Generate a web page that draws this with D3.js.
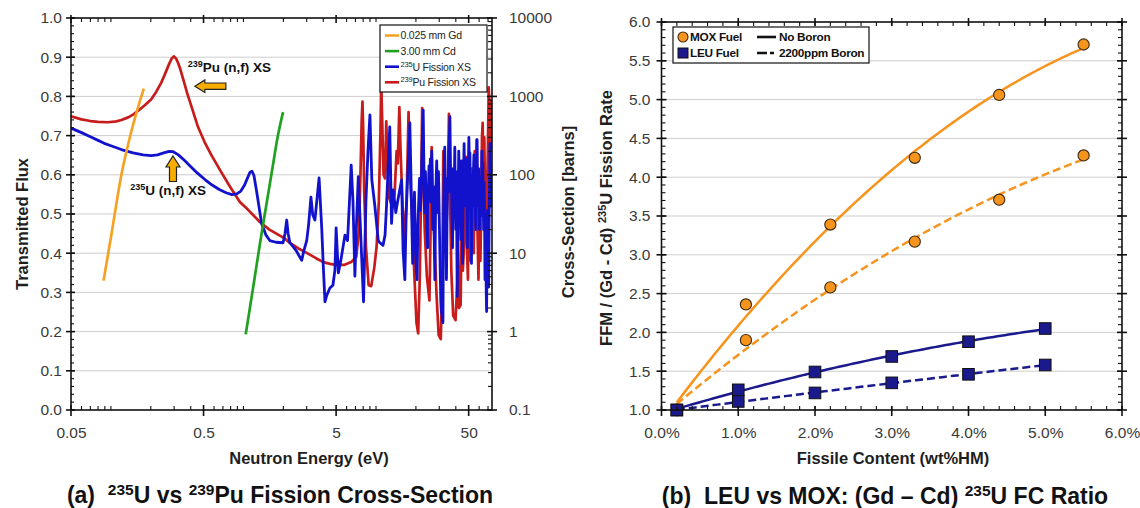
<!DOCTYPE html>
<html>
<head>
<meta charset="utf-8">
<script src="https://cdn.jsdelivr.net/npm/d3@7"></script>
<style>
  html, body { margin: 0; padding: 0; background: #fff; }
  svg { display: block; font-family: "Liberation Sans", Arial, Helvetica, sans-serif; }
</style>
</head>
<body>
<svg id="fig" width="1140" height="508"></svg>
<script>
// ---------------- Panel (a): filter transmission and fission cross-sections ----------------
const gdEnergy = [0.088, 0.1, 0.12, 0.145, 0.177];
const gdFlux   = [0.33, 0.44, 0.60, 0.72, 0.82];

const cdEnergy = [1.04, 1.18, 1.34, 1.5, 1.66, 1.82, 1.99];
const cdFlux   = [0.193, 0.31, 0.43, 0.53, 0.62, 0.70, 0.76];

const u235Energy = [0.05,0.06,0.07,0.08,0.089,0.1,0.12,0.147,0.175,0.201,0.225,0.25,0.275,0.295,0.321,0.36,0.399,0.45,0.512,0.58,0.657,0.74,0.818,0.89,0.956,1.02,1.07,1.12,1.16,1.2,1.26,1.37,1.48,1.58,1.76,1.99,2.06,2.12,2.17,2.24,2.49,2.75,2.86,3.0,3.1,3.23,3.33,3.46,3.72,3.9,4.0,4.12,4.25,4.49,4.73,4.9,5.0,5.2,5.43,5.83,6.1,6.5,6.7,6.93,7.1,7.35,7.7,8.05,8.4,8.7,9.0,9.3,9.8,10.4,10.7,11.3,11.7,12.0,12.7,13.1,13.5,14.1,14.6,15.6,16.0,16.5,16.9,
  18.0,18.3,18.6,18.9,19.2,19.5,19.8,20.1,20.4,20.7,21.0,21.3,21.6,21.9,22.2,22.5,22.7,22.9,23.1,23.3,23.6,23.9,24.2,24.5,24.8,25.1,25.4,25.7,26.0,26.3,26.6,26.9,27.2,27.5,27.8,28.1,28.4,28.7,29.0,29.3,29.6,29.9,30.2,30.5,30.8,31.1,31.5,32.0,32.3,32.6,33.0,33.3,33.6,34.0,34.3,34.6,35.0,35.3,35.7,36.1,36.4,36.7,37.0,37.4,37.8,38.1,38.5,38.9,39.3,39.6,40.0,40.3,40.6,41.0,41.4,41.7,42.1,42.5,42.9,43.3,43.7,44.1,44.5,45.0,45.4,45.8,46.2,46.6,47.0,47.4,47.8,48.2,48.6,49.0,49.4,49.8,50.2,50.7,51.1,51.5,52.0,52.5,53.0,53.4,53.8,54.3,54.8,55.2,55.7,56.2,56.6,57.1,57.5,57.9,58.4,58.9,59.4,59.9,60.4,60.9,61.4,61.9,62.4,62.9,63.4,63.9,64.4,64.9,65.4,65.9,66.4,66.9,67.4,67.9,68.3,68.8,69.3,69.8,70.3,70.8,71.4,71.9,72.4,72.9,73.4,73.9,74.4,75.0];
const u235XS = [394,345,305,275,252,235,210,190,180,176,180,190,199,197,181,152,128,105,87,74,65,59,56,57,62,74,90,108,111,98,60,24,17,14.5,13.8,13.6,18,26.5,18,13.6,10.9,8.1,10.9,14.5,23,52,31,26.5,91,20,7.0,2.4,2.9,3.6,3.9,6.1,21,5.6,8.1,17,14.5,133,47,5.1,20,95,14.5,2.4,47,205,580,86,40,14.5,13.6,12.6,17,40,408,24,64,33,47,86,10.9,4.6,33,
  458,120,30,7.4,25,60,18,6,4.6,22,45,90,35,60,180,420,670,200,60,33,110,45,20,11.7,50,130,70,160,45,200,60,20,70,14,4.6,30,80,150,60,33,110,40,15,6,2.5,1.8,1.6,1.3,30,90,225,70,25,4.6,20,90,60,160,300,550,180,60,120,30,11.7,50,120,70,225,60,20,110,25,2.8,20,60,200,80,120,30,15,150,50,7.4,40,110,250,90,140,40,90,160,30,11.7,70,150,300,120,190,60,25,7.4,60,100,40,110,180,70,86,30,20,150,90,280,60,40,120,45,20,70,90,30,60,200,90,140,40,20,80,30,4.6,25,8,3,1.8,15,35,8,5,3.7,30,80,250,120,108,40,70,86];

const pu239Energy = [0.05,0.06,0.07,0.08,0.095,0.11,0.12,0.135,0.147,0.165,0.18,0.201,0.22,0.24,0.258,0.275,0.288,0.298,0.31,0.322,0.332,0.355,0.376,0.41,0.452,0.51,0.58,0.68,0.79,0.94,1.08,1.33,1.57,2.03,2.24,2.6,3.0,3.5,4.0,4.5,5.0,5.8,6.5,7.1,7.45,7.65,7.8,7.9,8.0,8.15,8.4,8.8,9.2,9.7,10.1,10.5,10.8,10.95,11.1,11.4,11.7,11.95,12.2,12.6,13.2,13.8,14.3,14.6,15.0,15.3,15.8,16.4,17.0,17.6,18.1,18.7,19.4,20.2,20.8,21.4,21.9,22.3,22.7,23.3,24.2,25.3,25.9,26.3,26.8,27.6,28.6,29.7,30.8,31.6,32.2,32.8,33.8,34.9,35.5,36.1,37.0,38.2,39.8,41.0,41.5,42.2,43.5,44.4,45.2,46.4,47.6,48.5,49.4,50.1,50.9,51.8,52.6,53.5,54.6,55.6,56.4,57.4,58.3,59.3,60.3,61.3,62.2,63.0,63.8,64.6,65.6,66.6,67.8,69.0,70.0,70.8,71.7,72.8,73.8,75.0];
const pu239XS = [556,510,485,472,468,480,500,540,585,680,770,912,1150,1500,1995,2600,3050,3240,3050,2650,2290,1550,1100,700,417,260,172,108,71,45,36,25,20,15.6,13.5,11.5,10.1,8.7,7.7,7.3,7.1,7.1,7.7,9.0,20,120,500,860,400,60,12,3.9,3.8,6.5,12,45,350,1500,600,100,90,480,160,50,40,55,200,140,730,220,47,14,45,630,90,30,6,1.3,0.95,5,70,710,130,20,5,2.5,30,225,45,15,3,0.9,0.8,4,200,25,15,90,600,70,6,1.6,1.4,4,25,2,2.2,35,6,15,170,12,4.6,130,15,8,120,20,10,200,30,280,20,4.6,40,8,40,300,460,60,300,50,8,60,300,1300,900,200,600,900];

const energyTicks = [0.05, 0.5, 5, 50];
const fluxTicks = [0, 0.1, 0.2, 0.3, 0.4, 0.5, 0.6, 0.7, 0.8, 0.9, 1.0];
const xsTicks = [0.1, 1, 10, 100, 1000, 10000];

// ---------------- Panel (b): fission-rate ratio vs fissile content ----------------
const moxContent = [0.2, 1.1, 2.2, 3.3, 4.4, 5.5];
const moxNoBoron = [1.00, 2.36, 3.39, 4.25, 5.06, 5.71];
const moxBoron   = [1.00, 1.90, 2.58, 3.17, 3.71, 4.28];
const leuContent = [0.2, 1.0, 2.0, 3.0, 4.0, 5.0];
const leuNoBoron = [1.00, 1.26, 1.49, 1.69, 1.88, 2.05];
const leuBoron   = [1.00, 1.11, 1.22, 1.35, 1.46, 1.58];

const contentTicks = [0, 1, 2, 3, 4, 5, 6];
const ratioTicks = [1.0, 1.5, 2.0, 2.5, 3.0, 3.5, 4.0, 4.5, 5.0, 5.5, 6.0];

// ---------------- colours and type sizes ----------------
const C = {
  gd: "#F5A224", cd: "#22A022", u: "#1212CC", pu: "#C81C1C",
  mox: "#F7941E", leu: "#1A1A8C", arrow: "#F7AE00",
  grid: "#CDCDCD", axis: "#111", tick: "#3a3a3a", title: "#1e1e1e"
};
const TICK_FS = 15.5, TITLE_FS = 16.5, CAPTION_FS = 23;

const svg = d3.select("#fig");

// text with superscript pieces: parts = [[string, isSup], ...]
function rich(textSel, parts, supSize) {
  parts.forEach(([s, sup]) => {
    const t = textSel.append("tspan").text(s);
    if (sup) t.attr("font-size", supSize).attr("baseline-shift", "super");
  });
  return textSel;
}

// tick marks drawn along a frame edge
function tickMarks(g, scale, vals, side, at, inner, outer, w) {
  const grp = g.append("g").attr("stroke", C.axis).attr("stroke-width", w || 1.1);
  grp.selectAll("line").data(vals).join("line")
    .attr("x1", d => side === "left" ? at - outer : side === "right" ? at - inner : scale(d))
    .attr("x2", d => side === "left" ? at + inner : side === "right" ? at + outer : scale(d))
    .attr("y1", d => side === "bottom" ? at - inner : side === "top" ? at - outer : scale(d))
    .attr("y2", d => side === "bottom" ? at + outer : side === "top" ? at + inner : scale(d));
}

// tick labels through d3 axes (tick lines themselves drawn separately)
function labels(g, axis, tx, ty, size) {
  const a = g.append("g").attr("transform", `translate(${tx},${ty})`).call(axis);
  a.select(".domain").remove();
  a.selectAll(".tick line").remove();
  a.selectAll("text").attr("font-size", size).attr("fill", C.tick)
    .attr("font-family", '"Liberation Sans", Arial, sans-serif');
  return a;
}

// ======================= Panel (a) =======================
const A = { left: 71, right: 492, top: 18, bottom: 410 };
const xA = d3.scaleLog().domain([0.05, 75]).range([A.left, A.right]);
const yA = d3.scaleLinear().domain([0, 1]).range([A.bottom, A.top]);
const yA2 = d3.scaleLog().domain([0.1, 10000]).range([A.bottom, A.top]);

const gA = svg.append("g");
gA.append("defs").append("clipPath").attr("id", "clipA")
  .append("rect").attr("x", A.left).attr("y", A.top)
  .attr("width", A.right - A.left).attr("height", A.bottom - A.top);

gA.append("g").selectAll("line").data(fluxTicks.filter(v => v > 0 && v < 1)).join("line")
  .attr("x1", A.left).attr("x2", A.right)
  .attr("y1", d => yA(d)).attr("y2", d => yA(d))
  .attr("stroke", C.grid).attr("stroke-width", 1);

const plotA = gA.append("g").attr("clip-path", "url(#clipA)");
const xsLine = d3.line().x(d => xA(d[0])).y(d => yA2(d[1])).curve(d3.curveLinear);
const fluxLine = d3.line().x(d => xA(d[0])).y(d => yA(d[1])).curve(d3.curveMonotoneX);

plotA.append("path").datum(d3.zip(pu239Energy, pu239XS))
  .attr("d", xsLine).attr("fill", "none").attr("stroke", C.pu)
  .attr("stroke-width", 2.7).attr("stroke-linejoin", "round");
plotA.append("path").datum(d3.zip(u235Energy, u235XS))
  .attr("d", xsLine).attr("fill", "none").attr("stroke", C.u)
  .attr("stroke-width", 2.8).attr("stroke-linejoin", "round");
plotA.append("path").datum(d3.zip(gdEnergy, gdFlux))
  .attr("d", fluxLine).attr("fill", "none").attr("stroke", C.gd).attr("stroke-width", 2.7);
plotA.append("path").datum(d3.zip(cdEnergy, cdFlux))
  .attr("d", fluxLine).attr("fill", "none").attr("stroke", C.cd).attr("stroke-width", 2.7);

// frame and ticks
gA.append("rect").attr("x", A.left).attr("y", A.top)
  .attr("width", A.right - A.left).attr("height", A.bottom - A.top)
  .attr("fill", "none").attr("stroke", C.axis).attr("stroke-width", 1.6);

const eMinor = xA.ticks().filter(v => !energyTicks.some(t => Math.abs(t - v) / t < 1e-6));
tickMarks(gA, xA, eMinor, "bottom", A.bottom, 4, 0);
tickMarks(gA, xA, energyTicks, "bottom", A.bottom, 5, 6, 1.6);
tickMarks(gA, xA, eMinor, "top", A.top, 4, 0);
tickMarks(gA, xA, energyTicks, "top", A.top, 5, 3, 1.6);
tickMarks(gA, yA, yA.ticks(50), "left", A.left, 3, 0);
tickMarks(gA, yA, fluxTicks, "left", A.left, 4, 5, 1.6);
const xsMinor = yA2.ticks().filter(v => !xsTicks.some(t => Math.abs(t - v) / t < 1e-6));
tickMarks(gA, yA2, xsMinor, "right", A.right, 4, 0);
tickMarks(gA, yA2, xsTicks, "right", A.right, 5, 5, 1.6);

labels(gA, d3.axisBottom(xA).tickValues(energyTicks).tickFormat(d => String(d)).tickSize(0).tickPadding(17), 0, A.bottom, TICK_FS);
labels(gA, d3.axisLeft(yA).tickValues(fluxTicks).tickFormat(d3.format(".1f")).tickSize(0).tickPadding(9), A.left, 0, TICK_FS);
labels(gA, d3.axisRight(yA2).tickValues(xsTicks).tickFormat(d => String(d)).tickSize(0).tickPadding(17), A.right, 0, TICK_FS);

// axis titles
gA.append("text").attr("transform", `translate(28,224) rotate(-90)`)
  .attr("text-anchor", "middle").attr("font-size", TITLE_FS).attr("font-weight", "bold").attr("fill", C.title)
  .text("Transmitted Flux");
gA.append("text").attr("transform", `translate(574,212) rotate(-90)`)
  .attr("text-anchor", "middle").attr("font-size", TITLE_FS).attr("font-weight", "bold").attr("fill", C.title)
  .text("Cross-Section [barns]");
gA.append("text").attr("x", 309).attr("y", 464).attr("text-anchor", "middle")
  .attr("font-size", TITLE_FS).attr("font-weight", "bold").attr("fill", C.title)
  .text("Neutron Energy (eV)");

// legend (a)
const legA = gA.append("g");
legA.append("rect").attr("x", 380).attr("y", 25).attr("width", 107).attr("height", 67)
  .attr("fill", "#fff").attr("stroke", "#111").attr("stroke-width", 1.2);
const legAItems = [
  { c: C.gd, parts: [["0.025 mm Gd", false]] },
  { c: C.cd, parts: [["3.00 mm Cd", false]] },
  { c: C.u, parts: [["235", true], ["U Fission XS", false]] },
  { c: C.pu, parts: [["239", true], ["Pu Fission XS", false]] }
];
legAItems.forEach((it, i) => {
  const y = 35.5 + i * 15.6;
  legA.append("line").attr("x1", 385).attr("x2", 399).attr("y1", y).attr("y2", y)
    .attr("stroke", it.c).attr("stroke-width", 2.6);
  rich(legA.append("text").attr("x", 400.5).attr("y", y + 3.8).attr("font-size", 10.5)
    .attr("fill", "#222").attr("letter-spacing", -0.2), it.parts, 7.5);
});

// annotations (anchored in data coordinates)
const puNote = { e: 0.38, f: 0.862 };
const puArrow = { e: 0.43, f: 0.826 };
const uNote = { e: 0.14, f: 0.548 };
const uArrow = { e: 0.294, f: 0.648 };

rich(gA.append("text").attr("x", xA(puNote.e)).attr("y", yA(puNote.f))
  .attr("font-size", 13.5).attr("font-weight", "bold").attr("fill", "#111"),
  [["239", true], ["Pu (n,f) XS", false]], 9);
rich(gA.append("text").attr("x", xA(uNote.e)).attr("y", yA(uNote.f))
  .attr("font-size", 13.5).attr("font-weight", "bold").attr("fill", "#111"),
  [["235", true], ["U (n,f) XS", false]], 9);

{
  const tx = xA(puArrow.e), ty = yA(puArrow.f);
  const pts = [[0, 0], [10, -6.3], [10, -3.2], [31, -3.2], [31, 3.2], [10, 3.2], [10, 6.3]];
  gA.append("polygon").attr("points", pts.map(p => [tx + p[0], ty + p[1]].join(",")).join(" "))
    .attr("fill", C.arrow).attr("stroke", "#222").attr("stroke-width", 1.2);
}
{
  const tx = xA(uArrow.e), ty = yA(uArrow.f);
  const pts = [[0, 0], [7, 11], [3.5, 11], [3.5, 25.5], [-3.5, 25.5], [-3.5, 11], [-7, 11]];
  gA.append("polygon").attr("points", pts.map(p => [tx + p[0], ty + p[1]].join(",")).join(" "))
    .attr("fill", C.arrow).attr("stroke", "#222").attr("stroke-width", 1.2);
}

// caption (a)
rich(svg.append("text").attr("x", 280).attr("y", 503).attr("text-anchor", "middle")
  .attr("font-size", CAPTION_FS).attr("font-weight", "bold").attr("fill", "#111"),
  [["(a)\u00a0\u00a0", false], ["235", true], ["U vs ", false], ["239", true], ["Pu Fission Cross-Section", false]], 15.5);

// ======================= Panel (b) =======================
const B = { left: 661.5, right: 1122, top: 22, bottom: 410 };
const xB = d3.scaleLinear().domain([0, 6]).range([B.left, B.right]);
const yB = d3.scaleLinear().domain([1, 6]).range([B.bottom, B.top]);
const gB = svg.append("g");

gB.append("g").selectAll("line").data(ratioTicks.filter(v => v > 1 && v < 6)).join("line")
  .attr("x1", B.left).attr("x2", B.right)
  .attr("y1", d => yB(d)).attr("y2", d => yB(d))
  .attr("stroke", C.grid).attr("stroke-width", 1);

// second-order least-squares trend line
function quadFit(xs, ys) {
  const n = xs.length;
  let s = [0, 0, 0, 0, 0], t = [0, 0, 0];
  for (let i = 0; i < n; i++) {
    const x = xs[i], y = ys[i];
    for (let k = 0; k <= 4; k++) s[k] += Math.pow(x, k);
    for (let k = 0; k <= 2; k++) t[k] += Math.pow(x, k) * y;
  }
  const M = [[s[0], s[1], s[2], t[0]], [s[1], s[2], s[3], t[1]], [s[2], s[3], s[4], t[2]]];
  for (let i = 0; i < 3; i++) {
    for (let j = i + 1; j < 3; j++) {
      const f = M[j][i] / M[i][i];
      for (let k = i; k < 4; k++) M[j][k] -= f * M[i][k];
    }
  }
  const c = [0, 0, 0];
  for (let i = 2; i >= 0; i--) {
    let v = M[i][3];
    for (let k = i + 1; k < 3; k++) v -= M[i][k] * c[k];
    c[i] = v / M[i][i];
  }
  return x => c[0] + c[1] * x + c[2] * x * x;
}

const trendLine = d3.line().x(d => xB(d[0])).y(d => yB(d[1]));
const series = [
  { xs: moxContent, ys: moxNoBoron, color: C.mox, dash: null },
  { xs: moxContent, ys: moxBoron, color: C.mox, dash: "8,4" },
  { xs: leuContent, ys: leuNoBoron, color: C.leu, dash: null },
  { xs: leuContent, ys: leuBoron, color: C.leu, dash: "8,4" }
];
series.forEach(s => {
  const f = quadFit(s.xs, s.ys);
  const x0 = d3.min(s.xs), x1 = d3.max(s.xs);
  const pts = d3.range(0, 101).map(i => { const x = x0 + (x1 - x0) * i / 100; return [x, f(x)]; });
  gB.append("path").datum(pts).attr("d", trendLine).attr("fill", "none")
    .attr("stroke", s.color).attr("stroke-width", 2.5)
    .attr("stroke-dasharray", s.dash);
});

// markers
[moxNoBoron, moxBoron].forEach(ys => {
  gB.append("g").selectAll("circle").data(d3.zip(moxContent, ys)).join("circle")
    .attr("cx", d => xB(d[0])).attr("cy", d => yB(d[1])).attr("r", 5.6)
    .attr("fill", C.mox).attr("stroke", "#3b2a12").attr("stroke-width", 1.1);
});
[leuNoBoron, leuBoron].forEach(ys => {
  gB.append("g").selectAll("rect").data(d3.zip(leuContent, ys)).join("rect")
    .attr("x", d => xB(d[0]) - 5.8).attr("y", d => yB(d[1]) - 5.8)
    .attr("width", 11.6).attr("height", 11.6)
    .attr("fill", C.leu).attr("stroke", "#111").attr("stroke-width", 1);
});

// frame and ticks
gB.append("rect").attr("x", B.left).attr("y", B.top)
  .attr("width", B.right - B.left).attr("height", B.bottom - B.top)
  .attr("fill", "none").attr("stroke", C.axis).attr("stroke-width", 1.6);
const cMinor = xB.ticks(30);
const rMinor = yB.ticks(50);
tickMarks(gB, xB, cMinor, "bottom", B.bottom, 4, 0);
tickMarks(gB, xB, contentTicks, "bottom", B.bottom, 4, 6, 1.6);
tickMarks(gB, xB, cMinor, "top", B.top, 4, 0);
tickMarks(gB, xB, contentTicks, "top", B.top, 4, 4, 1.6);
tickMarks(gB, yB, rMinor, "left", B.left, 4, 0);
tickMarks(gB, yB, ratioTicks, "left", B.left, 5, 5, 1.6);
tickMarks(gB, yB, rMinor, "right", B.right, 4, 0);
tickMarks(gB, yB, ratioTicks, "right", B.right, 5, 5, 1.6);

labels(gB, d3.axisBottom(xB).tickValues(contentTicks).tickFormat(d => d.toFixed(1) + "%").tickSize(0).tickPadding(17), 0, B.bottom, TICK_FS);
labels(gB, d3.axisLeft(yB).tickValues(ratioTicks).tickFormat(d3.format(".1f")).tickSize(0).tickPadding(11), B.left, 0, TICK_FS);

rich(gB.append("text").attr("transform", `translate(612,${(B.top + B.bottom) / 2 + 2}) rotate(-90)`)
  .attr("text-anchor", "middle").attr("font-size", TITLE_FS).attr("font-weight", "bold").attr("fill", C.title),
  [["FFM / (Gd - Cd) ", false], ["235", true], ["U Fission Rate", false]], 11);
gB.append("text").attr("x", 893).attr("y", 464).attr("text-anchor", "middle")
  .attr("font-size", TITLE_FS).attr("font-weight", "bold").attr("fill", C.title)
  .text("Fissile Content (wt%HM)");

// legend (b)
const legB = gB.append("g");
legB.append("rect").attr("x", 673).attr("y", 27).attr("width", 196).attr("height", 36)
  .attr("fill", "#fff").attr("stroke", "#111").attr("stroke-width", 1.2);
legB.append("circle").attr("cx", 683).attr("cy", 37).attr("r", 5)
  .attr("fill", C.mox).attr("stroke", "#3b2a12").attr("stroke-width", 1.1);
legB.append("rect").attr("x", 678).attr("y", 48).attr("width", 10).attr("height", 10)
  .attr("fill", C.leu).attr("stroke", "#111").attr("stroke-width", 1);
legB.append("line").attr("x1", 757).attr("x2", 776).attr("y1", 37).attr("y2", 37)
  .attr("stroke", "#111").attr("stroke-width", 2.6);
legB.append("line").attr("x1", 757).attr("x2", 776).attr("y1", 53).attr("y2", 53)
  .attr("stroke", "#111").attr("stroke-width", 2.6).attr("stroke-dasharray", "10,3,4,3");
[["MOX Fuel", 690, 41], ["LEU Fuel", 690, 57], ["No Boron", 779, 41], ["2200ppm Boron", 779, 57]]
  .forEach(([s, x, y]) => legB.append("text").attr("x", x).attr("y", y).attr("font-size", 11.8)
    .attr("font-weight", "bold").attr("fill", "#111").attr("letter-spacing", -0.3).text(s));

// caption (b)
rich(svg.append("text").attr("x", 885).attr("y", 504).attr("text-anchor", "middle")
  .attr("font-size", CAPTION_FS).attr("font-weight", "bold").attr("fill", "#111"),
  [["(b)\u00a0\u00a0LEU vs MOX: (Gd \u2013 Cd) ", false], ["235", true], ["U FC Ratio", false]], 15.5);
</script>
</body>
</html>
